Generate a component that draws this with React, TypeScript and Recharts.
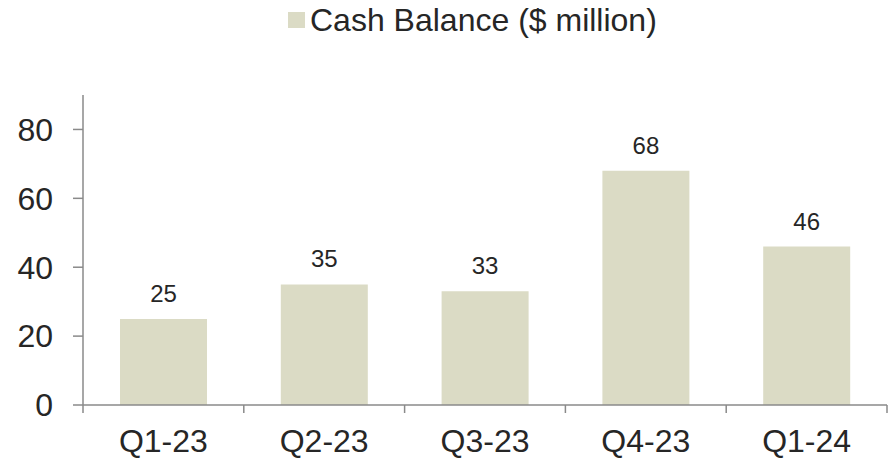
import { BarChart, Bar, XAxis, YAxis, LabelList } from 'recharts'

const quarters = ['Q1-23', 'Q2-23', 'Q3-23', 'Q4-23', 'Q1-24']
const cashBalance = [25, 35, 33, 68, 46]
const yTicks = [0, 20, 40, 60, 80]
const seriesName = 'Cash Balance ($ million)'

const data = quarters.map((q, i) => ({ quarter: q, cash: cashBalance[i] }))

const FONT = '"Liberation Sans", Arial, Helvetica, sans-serif'
const TEXT = '#262626'
const AXIS = '#8a8a8a'
const BAR = '#dbdbc5'
const X_TICK_SIZE = 8
const X_TICK_MARGIN = 16

// category axis ticks sit on the band edges, not at the centres
function QuarterTick(props: any) {
  const { x, y, payload, index, visibleTicksCount } = props
  const half = payload.offset || 0
  const axisY = y - X_TICK_SIZE - X_TICK_MARGIN
  const last = index === (visibleTicksCount ?? quarters.length) - 1
  return (
    <g>
      <line x1={x - half} x2={x - half} y1={axisY} y2={axisY + X_TICK_SIZE} stroke={AXIS} strokeWidth={1.5} />
      {last && (
        <line x1={x + half} x2={x + half} y1={axisY} y2={axisY + X_TICK_SIZE} stroke={AXIS} strokeWidth={1.5} />
      )}
      <text x={x} y={y} dy="0.71em" textAnchor="middle" fill={TEXT} fontSize={32} fontFamily={FONT}>
        {payload.value}
      </text>
    </g>
  )
}

export default function App() {
  return (
    <div style={{ position: 'absolute', left: 0, top: 0, width: 895, height: 459, background: '#fff' }}>
      <div style={{ position: 'absolute', left: 288, top: 12, width: 17, height: 16, background: BAR }} />
      <div
        style={{
          position: 'absolute',
          left: 310,
          top: 4,
          fontFamily: FONT,
          fontSize: 32,
          lineHeight: '32px',
          color: TEXT,
          whiteSpace: 'nowrap',
        }}
      >
        {seriesName}
      </div>
      <BarChart width={895} height={459} data={data} margin={{ top: 95, right: 8, left: 0, bottom: 0 }}>
        <XAxis
          dataKey="quarter"
          height={54}
          axisLine={{ stroke: AXIS, strokeWidth: 1.5 }}
          tickLine={false}
          tickSize={X_TICK_SIZE}
          tickMargin={X_TICK_MARGIN}
          tick={<QuarterTick />}
          interval={0}
        />
        <YAxis
          width={83}
          domain={[0, 90]}
          ticks={yTicks}
          allowDataOverflow
          axisLine={{ stroke: AXIS, strokeWidth: 1.5 }}
          tickLine={{ stroke: AXIS, strokeWidth: 1.5 }}
          tickSize={10}
          tickMargin={20}
          tick={{ fill: TEXT, fontSize: 32, fontFamily: FONT }}
        />
        <Bar dataKey="cash" name={seriesName} fill={BAR} barSize={87} isAnimationActive={false}>
          <LabelList dataKey="cash" position="top" offset={17} fill={TEXT} fontSize={24} fontFamily={FONT} />
        </Bar>
      </BarChart>
    </div>
  )
}
